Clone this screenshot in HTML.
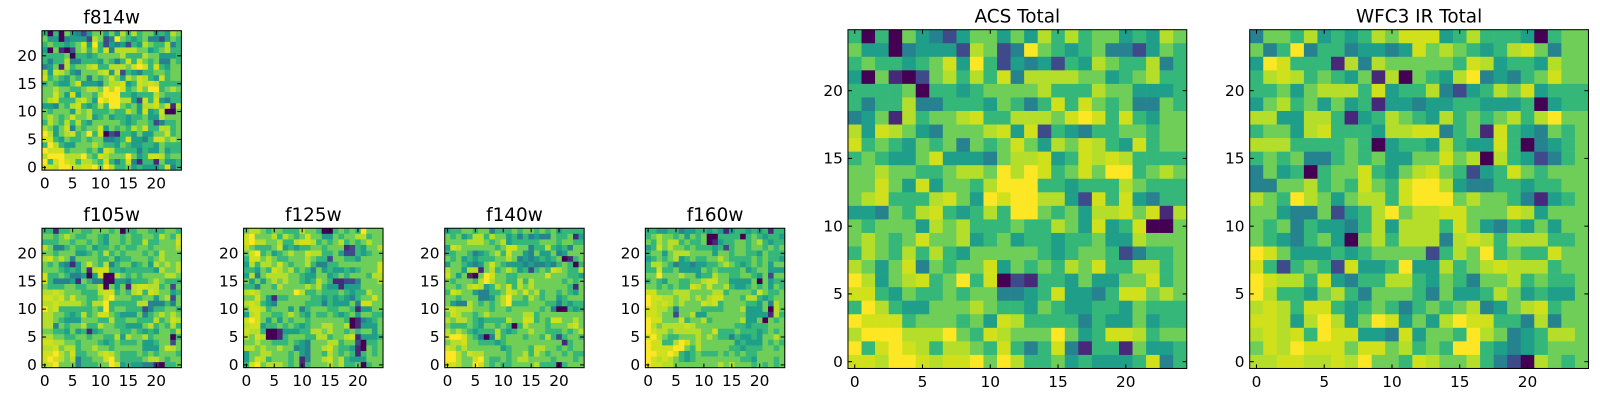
<!DOCTYPE html>
<html><head><meta charset="utf-8">
<style>
html,body{margin:0;padding:0;background:#fff;width:1600px;height:400px;overflow:hidden;}
svg{display:block;position:absolute;left:0;top:0;font-family:"DejaVu Sans","Liberation Sans",sans-serif;}
</style></head>
<body>
<svg id="fig" width="1600" height="400" viewBox="0 0 1600 400" xmlns="http://www.w3.org/2000/svg"><g id="root" transform="scale(1.0235)"></g></svg>
<script>
const tickValues = [0, 5, 10, 15, 20];
const levelColors = ['#440154','#482878','#3e4a89','#26828e','#1f9e89','#35b779','#6ece58','#b5de2b','#d0e11c','#fde725'];

const acsData = [
"5050643246646475756645476","6440344427623965456332465","5655456849524342547655735",
"4061026757583777766456755","5555605545666675557664445","5355733555465358586563365",
"3461756678557776898585466","7487643666784825435566566","8565465636568647687548566",
"5654468444367784587875555","6676655677697985686995676","6686484665799955455576555",
"6785557864989977428584355","4436578545759965647786817","6566647675556557648458006",
"6765686674564554556447666","5765757546666654566523556","7646836566846565768557756",
"9746785695802155464466856","8854655656633458443588676","5975446667655465445546555",
"9888566656487555535446455","7999777965876669645887566","9589875776585358315516445",
"8879987889697556454445835"];
const wfc3Data = [
"3665745457688845755540566","6359355344348676545786366","4985551737666665874554766",
"5787565461706547934356866","5564677758455732457684555","4675646451443445544450455",
"7744775145765475656757966","5664785554778835618543656","7775555650455475448503456",
"5656335656446686707542356","3645056685467865245865666","3366756586589974335545566",
"7659764677589996766531456","6643362457967788666874666","6563544357477758643546466",
"6543564067577737875777556","9864445456666257695655866","8525652844594475678777566",
"9877584355775465366756556","9755467536665364457645446","7875885456535656734678566",
"8874797469846479885537366","7878598844384665976345776","6879888688675659954345666",
"7788778796658766753207656"];
const f814Data = acsData;
const f105Data = [
"5515566556665605566555665","6656765566546656556657657","5556656656546656557556668",
"7633565564556565566566667","6656664456575656665657666","7867636666556455666567666",
"6564314686573566456476767","6665454617885545555547667","8556533404800765656666776",
"8533341653300443555676555","6555665566706461788775626","7787666555788565785876645",
"8878686655689666556646726","7787777657795555577333536","9785555556595665552355665",
"7766545756886544463567676","7765444666557556655575687","7736566755766554446756575",
"6655464514566655654546657","7766556656655747667566605","8877665666545655564456626",
"7786775667665666664446876","8897685566787655565656665","8987673556689655556776566",
"7896663555669845443310556"];
const f125Data = [
"6776566555766500565659666","8966675765686644656677566","8977667557887565675656766",
"7655568454556656661254667","6895645676687755642254566","5886765566676552665546666",
"4757768656675335566666668","5546587675653645445456668","4736777766544664565666577",
"6464676766545765112236667","5536657666676754414446666","7876666669755655565455766",
"6686415566665545454356686","7875436666655535444638866","6887566646356665566514466",
"4786655676546556545646655","8986464656656666665013456","7884556565456677667014446",
"8775001444557767665656646","7687001566655775667814445","6676655565436667756620556",
"7767667663436678655410656","4667766656436657656515656","4687566656136678675444666",
"5896777656156667675560566"];
const f140Data = [
"4556656635556566565645555","6564577576645353433655614","6666777656745555566656655",
"4876666665688663557545366","5566534567586643644634666","6564545556676343454560156",
"4665434686544434334356505","7664771675676452565876557","8646106986655666668666554",
"6566657976655757666665656","6656787457685767666666516","5876643355687686756656546",
"6656663346796657656645666","6433765656795556665535455","7877766656656666656300545",
"6876656766666677566666666","7677654555576688565886676","6555654665650576665666786",
"7676545557545667665556567","8998653037566656657525665","6778665554566666666661566",
"8767666666456665776656566","9976877666656675765665655","9976689655656776666566656",
"8876698656556666755505666"];
const f160Data = [
"5544553445545414554545155","5676656465600555505654554","6576775655601455665675455",
"4586766565554525665665656","5664677766664665665546555","4565674565566765555656554",
"5776534434455676545656466","5585564444656555564566444","6696667664557665566546266",
"5654665566788664444606455","6656565587686675445656465","8866677766667756666586556",
"9887767767678866657754566","9878767666878566665546376","8877636666555566674446076",
"8876626674466666664444175","9886668566756666674460656","9767777876666666554555666",
"9877677777668555655545656","8976556667676553544546676","9885579867666666454446565",
"9888899657666665545556656","9988985456555656565566666","9878765456666666655466656",
"9887766666666767666565656"];

const panels = [
  {name:'f814w', data:f814Data, left:41, top:30, cell:5.45},
  {name:'f105w', data:f105Data, left:41, top:223, cell:5.45},
  {name:'f125w', data:f125Data, left:238, top:223, cell:5.45},
  {name:'f140w', data:f140Data, left:434.5, top:223, cell:5.45},
  {name:'f160w', data:f160Data, left:630.5, top:223, cell:5.45},
  {name:'ACS Total', data:acsData, left:828.5, top:29, cell:13.24},
  {name:'WFC3 IR Total', data:wfc3Data, left:1221, top:29, cell:13.24}
];

const NS = 'http://www.w3.org/2000/svg';
const root = document.getElementById('root');
function mk(tag, attrs, parent){
  const e = document.createElementNS(NS, tag);
  for (const k in attrs) e.setAttribute(k, attrs[k]);
  (parent||root).appendChild(e);
  return e;
}
panels.forEach(p => {
  const slug = p.name.toLowerCase().replace(/\s+/g,'-');
  const g = mk('g', {});
  
  
  const n = p.data.length;
  const W = n * p.cell;
  const xPos = v => p.left + (v + 0.5) * p.cell;
  const yPos = v => p.top + W - (v + 0.5) * p.cell;
  for (let r = 0; r < n; r++) {
    const row = p.data[r];
    const yv = n - 1 - r;
    for (let c = 0; c < row.length; c++) {
      const lv = parseInt(row[c], 10);
      const rect = mk('rect', {x:(xPos(c)-p.cell/2).toFixed(2), y:(yPos(yv)-p.cell/2).toFixed(2),
        width:(p.cell+0.3).toFixed(2), height:(p.cell+0.3).toFixed(2), fill:levelColors[lv]}, g);
      
      
    }
  }
  const frame = mk('rect', {x:p.left, y:p.top, width:W, height:W, fill:'none', stroke:'#000', 'stroke-width':1}, g);
  
  
  const fs = 15;
  tickValues.forEach(t => {
    const x = xPos(t), y = yPos(t);
    mk('line', {x1:x, y1:p.top+W, x2:x, y2:p.top+W-4, stroke:'#000'}, g);
    mk('line', {x1:x, y1:p.top, x2:x, y2:p.top+4, stroke:'#000'}, g);
    mk('line', {x1:p.left, y1:y, x2:p.left+4, y2:y, stroke:'#000'}, g);
    mk('line', {x1:p.left+W, y1:y, x2:p.left+W-4, y2:y, stroke:'#000'}, g);
    const xl = mk('text', {x:x, y:p.top+W+18, 'font-size':fs, 'text-anchor':'middle'}, g);
    xl.textContent = t;
    
    
    const yl = mk('text', {x:p.left-5, y:y+5, 'font-size':fs, 'text-anchor':'end'}, g);
    yl.textContent = t;
    
    
  });
  const title = mk('text', {x:p.left+W/2, y:p.top-7, 'font-size':18, 'text-anchor':'middle'}, g);
  title.textContent = p.name;
  
  
});
</script>
</body></html>
